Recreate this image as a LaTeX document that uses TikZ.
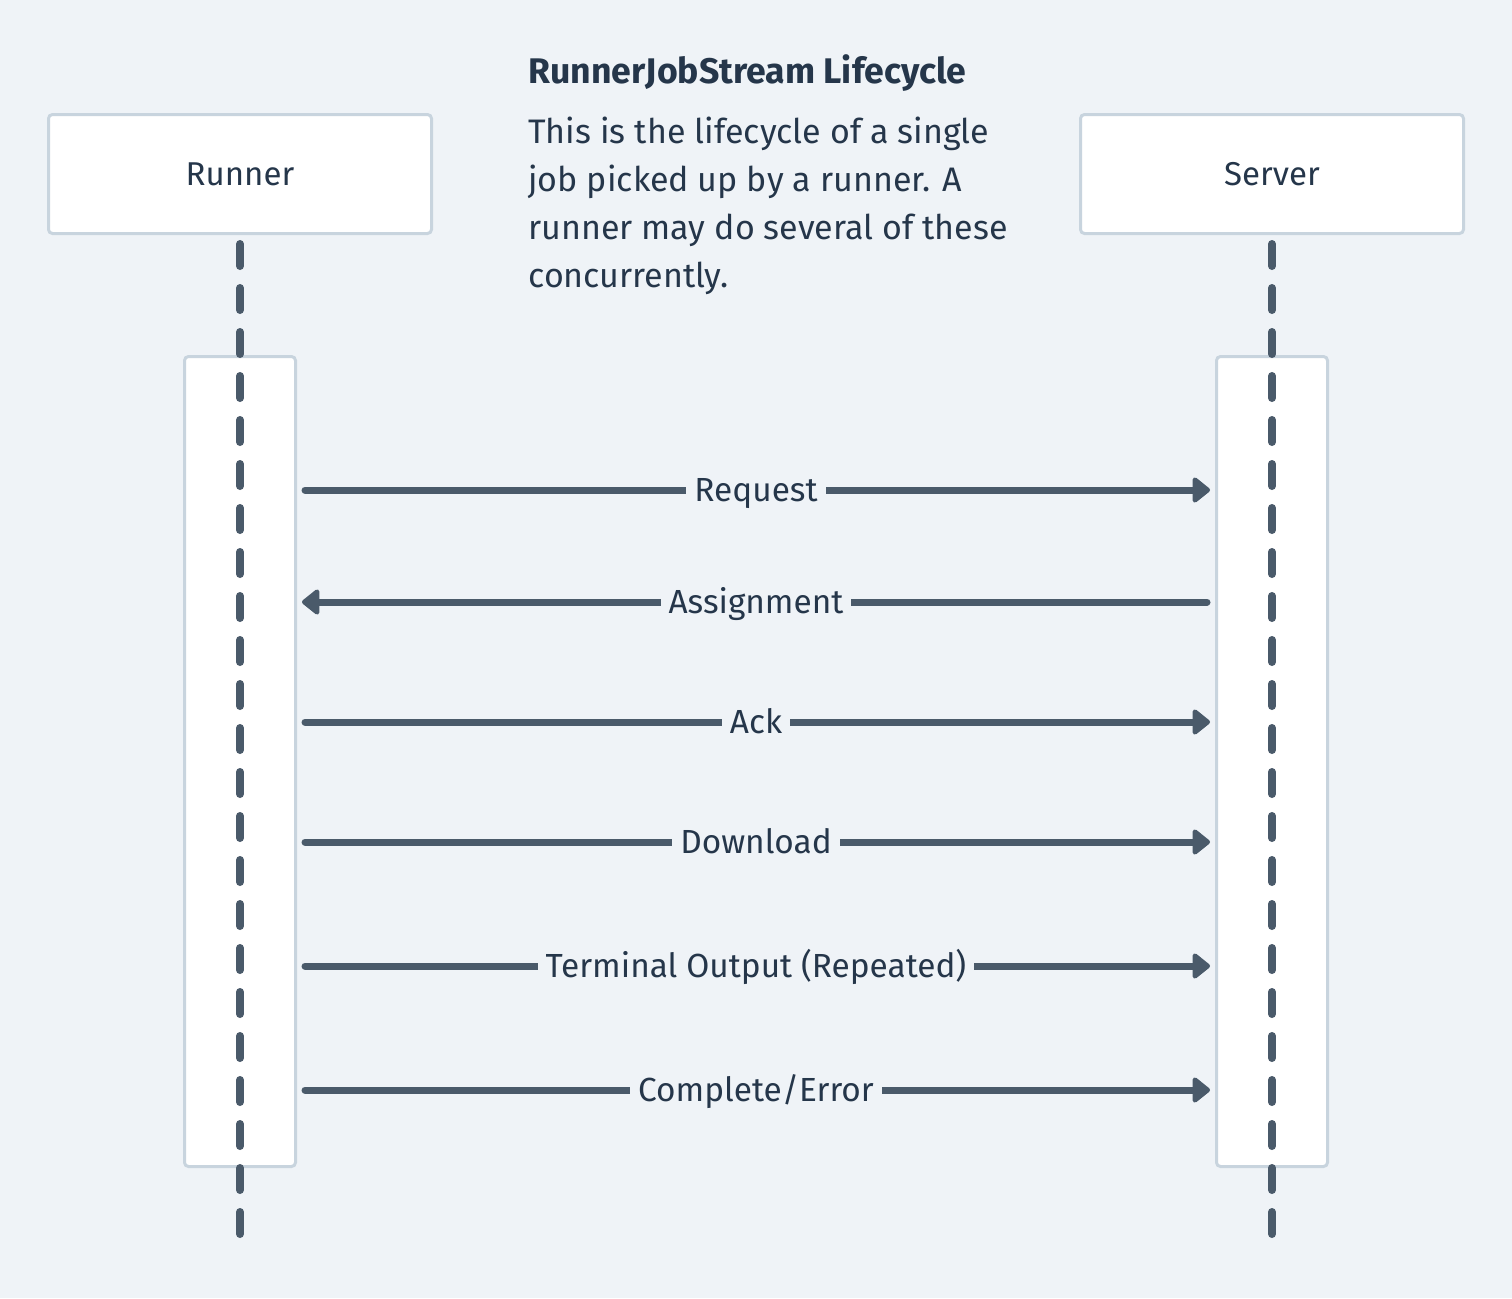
\documentclass[tikz,border=0pt]{standalone}
\usepackage{fontspec}
\setmainfont{Fira Sans}
\usetikzlibrary{arrows.meta}
\definecolor{bgcol}{HTML}{EFF3F7}
\definecolor{edgecol}{HTML}{C8D4DE}
\definecolor{linecol}{HTML}{4A5A6A}
\definecolor{txtcol}{HTML}{25364A}
\begin{document}
\begin{tikzpicture}[x=0.5pt,y=-0.5pt,
	  actor/.style={draw=edgecol,line width=1.5pt,fill=white,rounded corners=2pt,minimum width=191.5pt,minimum height=59.5pt,text=txtcol,font=\fontsize{16.5}{20}\selectfont},
	  actbar/.style={draw=edgecol,line width=1.5pt,fill=white,rounded corners=2pt,minimum width=55.5pt,minimum height=405pt},
	  lifeline/.style={linecol,line width=4pt,line cap=round,dash pattern=on 11pt off 11pt},
	  msg/.style={linecol,line width=3.5pt,line cap=round,-{Triangle[length=9.5pt,width=14.5pt,round]},shorten <=4pt,shorten >=2.5pt},
	  lbl/.style={fill=bgcol,text=txtcol,inner xsep=4pt,inner ysep=1pt,anchor=base,yshift=-5.5pt,font=\fontsize{16.7}{20}\selectfont}]
	  \fill[bgcol] (0,0) rectangle (1512,1298);
	  \useasboundingbox (0,0) rectangle (1512,1298);
	  % participants
	  \node[actor] (runner) at (240,174) {Runner};
	  \node[actor] (server) at (1272,174) {Server};
	  \node[actbar] (runbar) at (240,761.5) {};
	  \node[actbar] (srvbar) at (1272,761.5) {};
	  \coordinate (runend) at (240,1234);
	  \coordinate (srvend) at (1272,1234);
	  \draw[lifeline] ([yshift=-4.5pt]runner.south) -- (runend);
	  \draw[lifeline] ([yshift=-4.5pt]server.south) -- (srvend);
	  % note
	  \node[anchor=base west,inner sep=0pt,text=txtcol,font=\fontsize{17.8}{20}\selectfont\bfseries] (title) at (528,83) {RunnerJobStream Lifecycle};
	  \node[anchor=north west,inner sep=0pt,align=left,text=txtcol,font=\fontsize{17}{24}\selectfont] (note) at (528,117) {This is the lifecycle of a single\\job picked up by a runner. A\\runner may do several of these\\concurrently.};
	  % messages
	  \foreach \y/\t in {490/Request,722/Ack,842/Download,966/Terminal Output (Repeated),1090/Complete\slash Error}
	    \draw[msg] (runbar.east |- 0,\y) -- (srvbar.west |- 0,\y) node[midway,lbl]{\t};
	  \draw[msg] (srvbar.west |- 0,602) -- (runbar.east |- 0,602) node[midway,lbl]{Assignment};
	\end{tikzpicture}
\end{document}
